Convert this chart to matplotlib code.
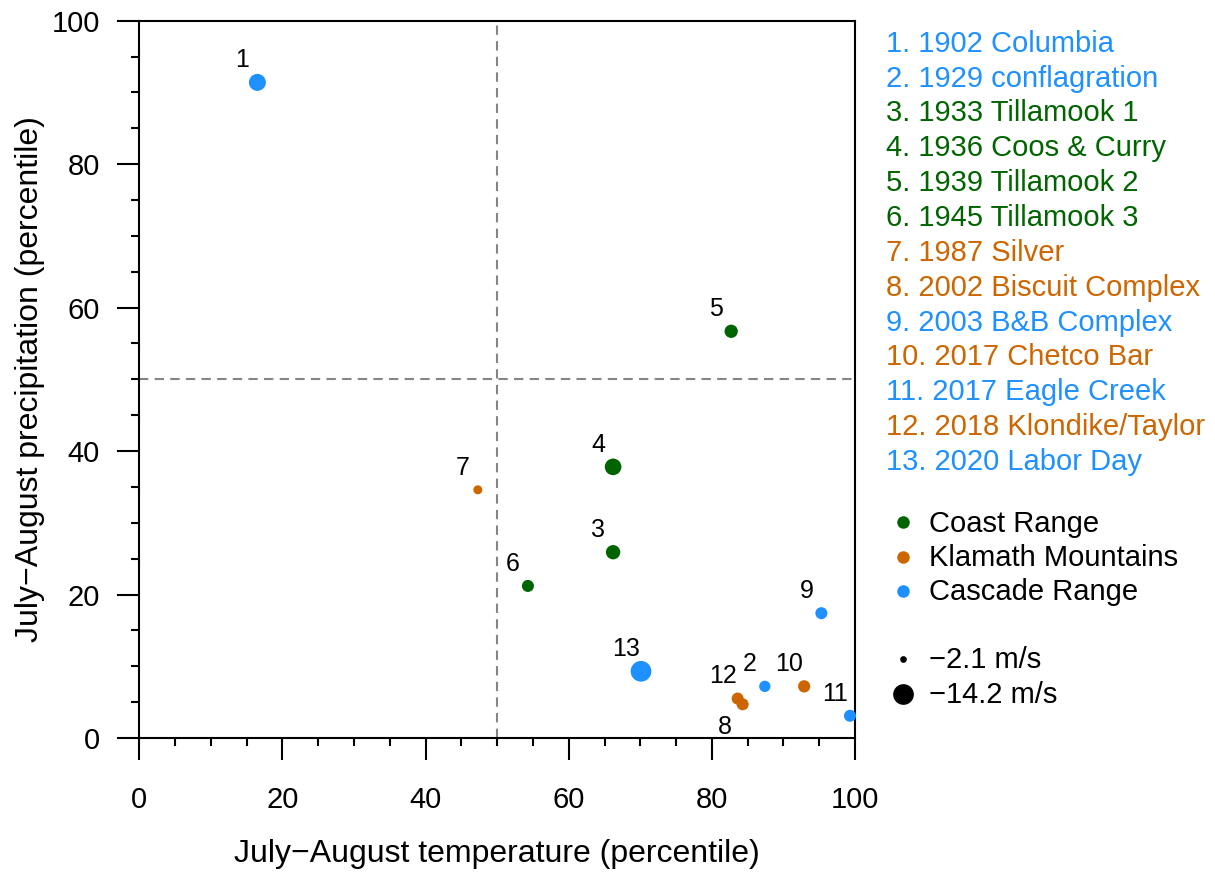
"""Oregon large fires: July-August temperature vs precipitation percentiles."""
import matplotlib
matplotlib.use("Agg")
import matplotlib.pyplot as plt
import numpy as np

plt.rcParams["font.family"] = ["Liberation Sans", "DejaVu Sans"]

fire_names = [
    "1902 Columbia", "1929 conflagration", "1933 Tillamook 1", "1936 Coos & Curry",
    "1939 Tillamook 2", "1945 Tillamook 3", "1987 Silver", "2002 Biscuit Complex",
    "2003 B&B Complex", "2017 Chetco Bar", "2017 Eagle Creek", "2018 Klondike/Taylor",
    "2020 Labor Day",
]
fire_region = [
    "Cascade Range", "Cascade Range", "Coast Range", "Coast Range", "Coast Range",
    "Coast Range", "Klamath Mountains", "Klamath Mountains", "Cascade Range",
    "Klamath Mountains", "Cascade Range", "Klamath Mountains", "Cascade Range",
]
temp_pct = [16.5, 87.4, 66.2, 66.2, 82.7, 54.3, 47.3, 84.3, 95.3, 92.9, 99.3, 83.6, 70.1]
precip_pct = [91.4, 7.2, 25.9, 37.8, 56.7, 21.2, 34.6, 4.7, 17.4, 7.2, 3.1, 5.5, 9.3]
wind_ms = [-11.0, -6.1, -8.7, -10.7, -7.8, -6.7, -4.1, -6.7, -6.7, -6.9, -6.7, -6.7, -14.2]

region_order = ["Coast Range", "Klamath Mountains", "Cascade Range"]
region_colors = {"Coast Range": "#006400", "Klamath Mountains": "#CD6600", "Cascade Range": "#1E90FF"}
wind_legend = [-2.1, -14.2]

DPI = 100
W, H = 1215, 873


def marker_size(w):
    # diameter in px grows linearly with wind speed magnitude
    d_px = 6.7 + (abs(w) - 2.1) * (20.7 - 6.7) / (14.2 - 2.1)
    return (d_px * 72 / DPI) ** 2


fig = plt.figure(figsize=(W / DPI, H / DPI), dpi=DPI)
ax = fig.add_axes([139.3 / W, 1 - 738 / H, (855 - 139.3) / W, (738 - 20.7) / H])

ax.axvline(50, color="#858585", lw=1.5, ls=(0, (4.5, 3)), zorder=1)
ax.axhline(50, color="#858585", lw=1.5, ls=(0, (4.5, 3)), zorder=1)

colors = [region_colors[r] for r in fire_region]
sizes = [marker_size(w) for w in wind_ms]
ax.scatter(temp_pct, precip_pct, s=sizes, c=colors, linewidths=0, zorder=3, clip_on=False)

for i, (x, y) in enumerate(zip(temp_pct, precip_pct)):
    off = (-13, -16) if i == 7 else (-10.8, 16)
    ax.annotate(str(i + 1), (x, y), xytext=off, textcoords="offset points",
                ha="center", va="center", fontsize=18, color="black")

ax.set_xlim(0, 100)
ax.set_ylim(0, 100)
ax.set_xticks(np.arange(0, 101, 20))
ax.set_yticks(np.arange(0, 101, 20))
ax.set_xticks(np.arange(0, 101, 5), minor=True)
ax.set_yticks(np.arange(0, 101, 5), minor=True)
ax.tick_params(which="major", length=15.8, width=1.5, labelsize=21)
ax.tick_params(axis="x", which="major", pad=18.5)
ax.tick_params(axis="y", which="major", pad=12.5)
ax.tick_params(which="minor", length=5.8, width=1.5)
for sp in ax.spines.values():
    sp.set_linewidth(1.5)

fig.text(497 / W, 1 - 862 / H, "July\u2212August temperature (percentile)",
         ha="center", va="baseline", fontsize=23)
fig.text(30 / W, 1 - 379.4 / H, "July\u2212August precipitation (percentile)",
         ha="center", va="center", rotation=90, fontsize=23)

# right-hand legends, drawn in pixel coordinates
side = fig.add_axes([0, 0, 1, 1], zorder=-1)
side.set_xlim(0, W)
side.set_ylim(H, 0)
side.axis("off")

for i, (name, reg) in enumerate(zip(fire_names, fire_region)):
    side.text(886, 51.7 + i * 34.86, f"{i + 1}. {name}", color=region_colors[reg],
              fontsize=21, va="baseline", ha="left")

for i, reg in enumerate(region_order):
    yc = 522.3 + i * 34.35
    side.scatter([902.7], [yc], s=(12.5 * 0.72) ** 2, color=region_colors[reg], linewidths=0)
    side.text(929, yc + 9.4, reg, fontsize=21, va="baseline", ha="left")

for i, w in enumerate(wind_legend):
    yc = 659.3 + i * 34.7
    side.scatter([902.7], [yc], s=marker_size(w), color="black", linewidths=0)
    side.text(929, yc + 9.0, f"\u2212{abs(w)} m/s", fontsize=21, va="baseline", ha="left")

fig.savefig("out.png", dpi=DPI, facecolor="white")
